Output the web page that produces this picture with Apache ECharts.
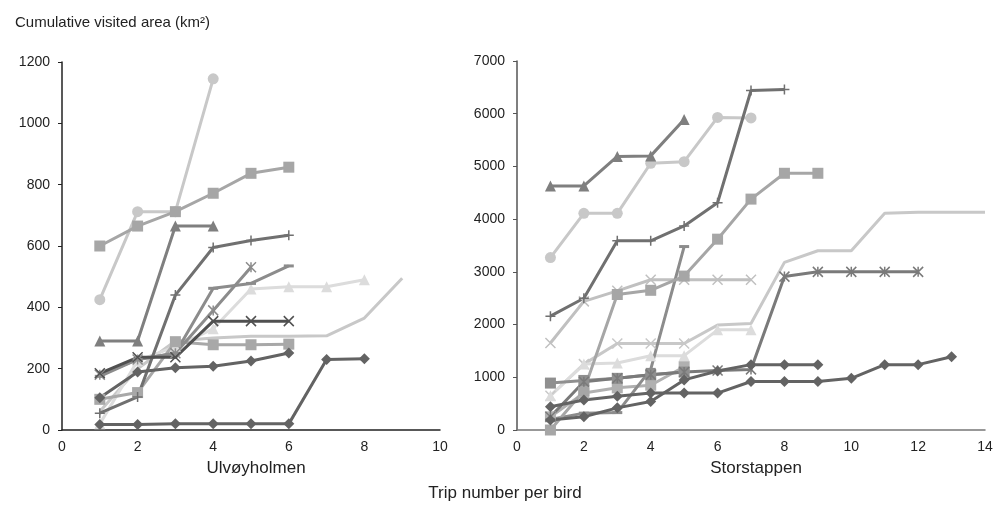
<!DOCTYPE html>
<html>
<head>
<meta charset="utf-8">
<script src="https://cdn.jsdelivr.net/npm/echarts@6/dist/echarts.min.js"></script>
<style>
  html, body { margin: 0; padding: 0; background: #fff; }
  #chart { width: 1000px; height: 528px; }
</style>
</head>
<body>
<div id="chart"></div>
<script>
// x ticks / y ticks
const leftXTicks = [0, 2, 4, 6, 8, 10]
const rightXTicks = [0, 2, 4, 6, 8, 10, 12, 14]
const leftYTicks = [0, 200, 400, 600, 800, 1000, 1200]
const rightYTicks = [0, 1000, 2000, 3000, 4000, 5000, 6000, 7000]

// Ulvøyholmen birds (value per trip, trip 1..n)
const ulvCircle = [425, 712, 712, 1145]
const ulvSquare = [600, 665, 712, 772, 837, 857]
const ulvTriangle = [290, 290, 665, 665]
const ulvPlus = [55, 108, 440, 595, 618, 635]
const ulvAsterisk = [180, 230, 250, 390, 531]
const ulvCross = [185, 237, 237, 355, 355, 355]
const ulvSquareLight = [100, 122, 288, 278, 278, 280]
const ulvDiamondLow = [18, 18, 20, 20, 20, 20, 230, 232]
const ulvDiamond = [105, 189, 203, 208, 225, 251]
const ulvTriangleLight = [20, 226, 272, 330, 460, 467, 467, 490]
const ulvPlain = [60, 200, 290, 300, 306, 306, 307, 365, 495]
const ulvDash = [175, 230, 250, 462, 478, 535]

// Storstappen birds
const stoTriangle = [4630, 4630, 5190, 5200, 5890]
const stoCircle = [3270, 4110, 4110, 5060, 5090, 5930, 5920]
const stoPlus = [2160, 2500, 3590, 3590, 3870, 4310, 6440, 6460]
const stoSquare = [0, 750, 2570, 2650, 2920, 3620, 4380, 4870, 4870]
const stoCrossLight = [1650, 2440, 2640, 2850, 2850, 2850, 2850]
const stoDash = [200, 320, 330, 1150, 3480]
const stoPlain = [650, 1250, 1640, 1640, 1640, 1990, 2020, 3180, 3400, 3400, 4110, 4130, 4130, 4130]
const stoTriangleLight = [650, 1250, 1270, 1410, 1410, 1900, 1900]
const stoSquareDark = [890, 940, 980, 1050, 1100]
const stoSquareLight = [250, 700, 800, 850, 1200]
const stoAsterisk = [250, 917, 980, 1050, 1100, 1130, 1150, 2910, 3000, 3000, 3000, 3000]
const stoDiamondA = [190, 250, 420, 540, 950, 1120, 1240, 1240, 1240]
const stoDiamondB = [440, 570, 640, 700, 700, 700, 920, 920, 920, 980, 1240, 1240, 1390]

const PLUS = 'path://M5,0 L5,10 M0,5 L10,5'
const CROSS = 'path://M0,0 L10,10 M10,0 L0,10'
const ASTER = 'path://M0,0 L10,10 M10,0 L0,10 M5,0 L5,10'

function mk(data, idx, color, symbol, size, extra) {
    const stroke = symbol === PLUS || symbol === CROSS || symbol === ASTER
    return Object.assign({
        type: 'line',
        xAxisIndex: idx,
        yAxisIndex: idx,
        data: data.map((v, i) => [i + 1, v]),
        symbol: symbol,
        symbolSize: size,
        showSymbol: symbol !== 'none',
        lineStyle: { color: color, width: 3 },
        itemStyle: {
            color: stroke ? 'transparent' : color,
            borderColor: color,
            borderWidth: stroke ? 1.5 : 0
        },
        emphasis: { disabled: true },
        animation: false,
        z: 2
    }, extra || {})
}

const chart = echarts.init(document.getElementById('chart'))

const axisText = { color: '#222', fontSize: 14, fontFamily: 'Liberation Sans, Arial, sans-serif', formatter: v => String(v) }

chart.setOption({
    textStyle: { fontFamily: 'Liberation Sans, Arial, sans-serif' },
    title: [
        { text: 'Cumulative visited area (km²)', left: 10, top: 10, textStyle: { fontSize: 15, fontWeight: 'normal', color: '#222' } },
        { text: 'Ulvøyholmen', left: 251, top: 455, textAlign: 'center', textStyle: { fontSize: 17, fontWeight: 'normal', color: '#222' } },
        { text: 'Storstappen', left: 751, top: 455, textAlign: 'center', textStyle: { fontSize: 17, fontWeight: 'normal', color: '#222' } },
        { text: 'Trip number per bird', left: 500, top: 480, textAlign: 'center', textStyle: { fontSize: 17, fontWeight: 'normal', color: '#222' } }
    ],
    grid: [
        { left: 62, top: 62, width: 378, height: 368 },
        { left: 517, top: 61, width: 468, height: 369 }
    ],
    xAxis: [
        {
            gridIndex: 0, type: 'value', min: leftXTicks[0], max: leftXTicks[leftXTicks.length - 1], interval: 2,
            axisLine: { lineStyle: { color: '#222', width: 1.5 } },
            axisTick: { show: false },
            splitLine: { show: false },
            axisLabel: Object.assign({ margin: 10 }, axisText)
        },
        {
            gridIndex: 1, type: 'value', min: rightXTicks[0], max: rightXTicks[rightXTicks.length - 1], interval: 2,
            axisLine: { lineStyle: { color: '#777', width: 1.5 } },
            axisTick: { show: false },
            splitLine: { show: false },
            axisLabel: Object.assign({ margin: 10 }, axisText)
        }
    ],
    yAxis: [
        {
            gridIndex: 0, type: 'value', min: leftYTicks[0], max: leftYTicks[leftYTicks.length - 1], interval: 200,
            axisLine: { show: true, lineStyle: { color: '#222', width: 1.5 } },
            axisTick: { show: true, length: 4, lineStyle: { color: '#222' } },
            splitLine: { show: false },
            axisLabel: Object.assign({ margin: 12 }, axisText)
        },
        {
            gridIndex: 1, type: 'value', min: rightYTicks[0], max: rightYTicks[rightYTicks.length - 1], interval: 1000,
            axisLine: { show: true, lineStyle: { color: '#555', width: 1.5 } },
            axisTick: { show: true, length: 4, lineStyle: { color: '#555' } },
            splitLine: { show: false },
            axisLabel: Object.assign({ margin: 12 }, axisText)
        }
    ],
    series: [
        mk(ulvPlain, 0, '#c8c8c8', 'none', 0),
        mk(ulvTriangleLight, 0, '#dcdcdc', 'triangle', 11),
        mk(ulvSquareLight, 0, '#a8a8a8', 'rect', 11),
        mk(ulvDash, 0, '#8c8c8c', 'rect', [10, 3]),
        mk(ulvAsterisk, 0, '#8c8c8c', ASTER, 10),
        mk(ulvCircle, 0, '#c8c8c8', 'circle', 11),
        mk(ulvSquare, 0, '#a6a6a6', 'rect', 11),
        mk(ulvTriangle, 0, '#7f7f7f', 'triangle', 11),
        mk(ulvPlus, 0, '#707070', PLUS, 10),
        mk(ulvCross, 0, '#505050', CROSS, 10),
        mk(ulvDiamond, 0, '#636363', 'diamond', 11),
        mk(ulvDiamondLow, 0, '#636363', 'diamond', 11),

        mk(stoPlain, 1, '#c8c8c8', CROSS, (v, p) => p.dataIndex < 5 ? 10 : 0),
        mk(stoTriangleLight, 1, '#dcdcdc', 'triangle', 11),
        mk(stoCrossLight, 1, '#c0c0c0', CROSS, 10),
        mk(stoSquareLight, 1, '#b0b0b0', 'rect', 11),
        mk(stoDash, 1, '#8c8c8c', 'rect', [10, 3]),
        mk(stoSquare, 1, '#a6a6a6', 'rect', 11),
        mk(stoSquareDark, 1, '#8f8f8f', 'rect', 11),
        mk(stoAsterisk, 1, '#7a7a7a', ASTER, 10),
        mk(stoCircle, 1, '#c8c8c8', 'circle', 11),
        mk(stoTriangle, 1, '#7f7f7f', 'triangle', 11),
        mk(stoPlus, 1, '#707070', PLUS, 10),
        mk(stoDiamondA, 1, '#636363', 'diamond', 11),
        mk(stoDiamondB, 1, '#636363', 'diamond', 11)
    ]
})
</script>
</body>
</html>
